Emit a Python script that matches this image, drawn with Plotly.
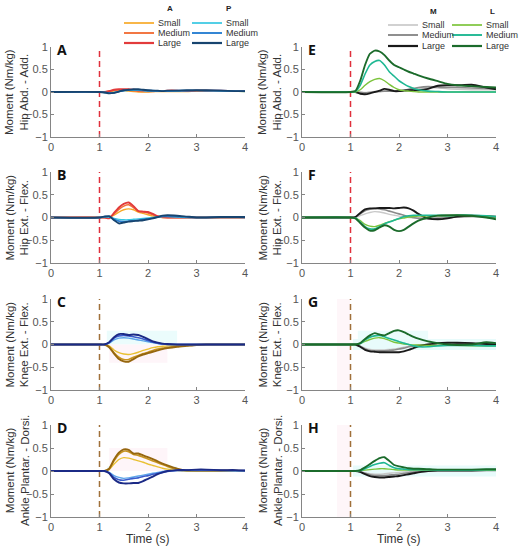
import plotly.graph_objects as go

# time base (s) shared by every curve
time_s = [0, 1.0, 1.1, 1.2, 1.3, 1.4, 1.5, 1.6, 1.7, 1.8, 1.9, 2.0, 2.1, 2.2,
          2.3, 2.4, 2.6, 2.8, 3.0, 3.2, 3.5, 3.8, 4.0]
onset_time = 1.0
y_ticks = [-1, -0.5, 0, 0.5, 1]
x_ticks = [0, 1, 2, 3, 4]
size_labels = ['Small', 'Medium', 'Large']

# A - hip abd/add, A and P directions
abd_a_small = [0, 0, 0, 0.01, 0.02, 0.03, 0.03, 0.02, 0.01, 0.0, 0.0, 0.0, 0.01, 0.01, 0.01, 0.01, 0.01, 0.01, 0.02, 0.02, 0.02, 0.02, 0.01]
abd_a_medium = [0, 0, 0, 0.02, 0.04, 0.05, 0.05, 0.04, 0.03, 0.02, 0.01, 0.01, 0.01, 0.02, 0.02, 0.02, 0.02, 0.02, 0.03, 0.03, 0.02, 0.02, 0.02]
abd_a_large = [0, 0, 0, 0.02, 0.05, 0.06, 0.06, 0.06, 0.05, 0.04, 0.03, 0.02, 0.02, 0.02, 0.02, 0.03, 0.03, 0.02, 0.03, 0.03, 0.03, 0.02, 0.02]
abd_p_small = [0, 0, -0.01, -0.02, -0.01, 0.01, 0.03, 0.04, 0.04, 0.04, 0.03, 0.02, 0.02, 0.02, 0.02, 0.02, 0.02, 0.03, 0.03, 0.03, 0.02, 0.02, 0.01]
abd_p_medium = [0, 0, -0.01, -0.02, -0.02, 0.01, 0.03, 0.04, 0.05, 0.05, 0.04, 0.03, 0.03, 0.02, 0.02, 0.02, 0.03, 0.03, 0.04, 0.03, 0.03, 0.02, 0.02]
abd_p_large = [0, 0, -0.01, -0.03, -0.02, 0.01, 0.04, 0.05, 0.06, 0.06, 0.05, 0.04, 0.03, 0.03, 0.02, 0.03, 0.03, 0.04, 0.04, 0.04, 0.03, 0.02, 0.02]

# B - hip ext/flex
ext_a_small = [0, 0, 0, 0, 0.05, 0.12, 0.17, 0.19, 0.17, 0.12, 0.09, 0.06, 0.03, 0.01, 0, 0, 0, 0, 0, 0, 0, 0, 0]
ext_a_medium = [0, 0, 0, 0, 0.08, 0.18, 0.25, 0.28, 0.22, 0.14, 0.12, 0.10, 0.06, 0.02, 0, 0, 0, 0, 0, 0, 0, 0, 0]
ext_a_large = [0, 0, 0, -0.02, 0.1, 0.22, 0.3, 0.33, 0.25, 0.14, 0.13, 0.12, 0.08, 0.03, 0.01, 0, 0, 0, 0, 0, 0, 0, 0]
ext_p_small = [0, 0, 0.01, 0.01, -0.02, -0.04, -0.05, -0.05, -0.04, -0.03, -0.02, -0.01, 0, 0.01, 0.02, 0.02, 0.01, 0, 0, 0, 0, 0, 0]
ext_p_medium = [0, 0, 0.02, 0.02, -0.04, -0.08, -0.09, -0.08, -0.07, -0.06, -0.04, -0.03, -0.01, 0.01, 0.03, 0.03, 0.02, 0.01, 0, 0, 0.01, 0.01, 0]
ext_p_large = [0, 0, 0.02, 0.03, -0.06, -0.13, -0.11, -0.09, -0.08, -0.07, -0.06, -0.04, -0.02, 0.01, 0.04, 0.05, 0.04, 0.02, 0, 0, 0.01, 0.01, 0.01]

# C - knee ext/flex
knee_a_small = [0, 0, 0, -0.03, -0.12, -0.18, -0.21, -0.22, -0.2, -0.17, -0.13, -0.1, -0.07, -0.05, -0.04, -0.03, -0.02, -0.01, 0, 0, 0, 0, 0]
knee_a_medium = [0, 0, 0, -0.05, -0.18, -0.28, -0.33, -0.33, -0.28, -0.24, -0.2, -0.17, -0.13, -0.1, -0.08, -0.06, -0.04, -0.02, -0.01, 0, 0, 0, 0]
knee_a_large = [0, 0, 0, -0.06, -0.2, -0.32, -0.37, -0.38, -0.32, -0.26, -0.22, -0.19, -0.16, -0.13, -0.1, -0.08, -0.05, -0.03, -0.01, 0, 0, 0, 0]
knee_p_small = [0, 0, 0, 0.03, 0.1, 0.14, 0.15, 0.14, 0.12, 0.1, 0.08, 0.06, 0.04, 0.02, 0.01, 0, 0, 0, 0, 0, 0, 0, 0]
knee_p_medium = [0, 0, 0, 0.04, 0.14, 0.19, 0.2, 0.19, 0.17, 0.15, 0.12, 0.09, 0.05, 0.03, 0.01, 0, 0, 0, 0, 0, 0, 0, 0]
knee_p_large = [0, 0, 0, 0.05, 0.16, 0.23, 0.23, 0.21, 0.22, 0.21, 0.17, 0.12, 0.07, 0.04, 0.02, 0.01, 0, 0, 0, 0, 0, 0, 0]

# D - ankle plantar/dorsi
ank_a_small = [0, 0, 0, 0.03, 0.15, 0.25, 0.29, 0.28, 0.25, 0.22, 0.19, 0.15, 0.12, 0.09, 0.06, 0.04, 0.01, 0, 0, 0, 0, 0, 0]
ank_a_medium = [0, 0, 0, 0.05, 0.22, 0.36, 0.43, 0.42, 0.36, 0.34, 0.3, 0.26, 0.22, 0.18, 0.14, 0.1, 0.03, 0.01, 0, 0, 0, 0, 0]
ank_a_large = [0, 0, 0, 0.05, 0.25, 0.4, 0.47, 0.46, 0.38, 0.38, 0.34, 0.3, 0.26, 0.21, 0.16, 0.12, 0.05, 0.01, 0.01, 0.01, 0.01, 0.01, 0]
ank_p_small = [0, 0, 0, -0.03, -0.1, -0.14, -0.16, -0.15, -0.13, -0.11, -0.09, -0.07, -0.05, -0.03, -0.01, 0, 0.01, 0.01, 0.01, 0.01, 0.01, 0, 0]
ank_p_medium = [0, 0, 0, -0.04, -0.14, -0.19, -0.2, -0.18, -0.16, -0.15, -0.12, -0.1, -0.07, -0.05, -0.03, -0.01, 0.01, 0.02, 0.02, 0.02, 0.01, 0.01, 0.01]
ank_p_large = [0, 0, 0, -0.05, -0.18, -0.25, -0.27, -0.27, -0.26, -0.26, -0.22, -0.17, -0.12, -0.07, -0.03, 0, 0.02, 0.02, 0.03, 0.03, 0.02, 0.02, 0.01]

# E - hip abd/add, M and L directions
abd_m_small = [0, 0, 0, 0, -0.01, 0, 0.01, 0.01, 0.02, 0.02, 0.02, 0.03, 0.04, 0.05, 0.07, 0.08, 0.1, 0.09, 0.07, 0.06, 0.05, 0.05, 0.05]
abd_m_medium = [0, 0, 0, -0.01, -0.02, -0.01, 0, 0.01, 0.02, 0.02, 0.02, 0.03, 0.04, 0.06, 0.08, 0.1, 0.12, 0.11, 0.1, 0.1, 0.09, 0.08, 0.07]
abd_m_large = [0, 0, 0, -0.04, -0.05, -0.03, 0, 0.03, 0.07, 0.05, 0.02, 0.02, 0.03, 0.04, 0.04, 0.04, 0.07, 0.14, 0.15, 0.15, 0.16, 0.1, 0.06]
abd_l_small = [0, 0, 0, 0.05, 0.15, 0.23, 0.28, 0.3, 0.25, 0.17, 0.1, 0.05, 0.03, 0.02, 0.01, 0, 0, 0, 0, 0, 0, 0, 0]
abd_l_medium = [0, 0, 0.01, 0.15, 0.4, 0.6, 0.68, 0.7, 0.6, 0.45, 0.35, 0.25, 0.18, 0.12, 0.08, 0.05, 0.02, 0.01, 0, 0, 0, 0, 0]
abd_l_large = [0, 0, 0.02, 0.25, 0.6, 0.85, 0.92, 0.9, 0.82, 0.7, 0.6, 0.55, 0.5, 0.45, 0.41, 0.37, 0.3, 0.24, 0.18, 0.15, 0.13, 0.11, 0.1]

# F - hip ext/flex
ext_m_small = [0, 0, 0, 0.04, 0.08, 0.11, 0.13, 0.12, 0.1, 0.07, 0.05, 0.03, 0.01, 0, -0.01, -0.01, -0.01, 0, 0.01, 0.01, 0.01, 0.01, 0]
ext_m_medium = [0, 0, 0.01, 0.08, 0.15, 0.18, 0.2, 0.19, 0.17, 0.14, 0.11, 0.08, 0.05, 0.02, 0, -0.02, -0.03, -0.02, 0, 0.02, 0.03, 0.02, 0.01]
ext_m_large = [0, 0, 0.01, 0.1, 0.18, 0.2, 0.2, 0.21, 0.21, 0.21, 0.2, 0.21, 0.22, 0.2, 0.15, 0.08, -0.02, -0.04, -0.02, 0.02, 0.04, 0.03, 0.02]
ext_l_small = [0, 0, -0.01, -0.07, -0.15, -0.19, -0.2, -0.17, -0.13, -0.09, -0.06, -0.03, -0.01, 0.01, 0.02, 0.03, 0.04, 0.04, 0.04, 0.05, 0.04, 0.03, 0.01]
ext_l_medium = [0, 0, -0.01, -0.1, -0.2, -0.25, -0.25, -0.2, -0.14, -0.1, -0.06, -0.02, 0.02, 0.04, 0.05, 0.05, 0.05, 0.05, 0.04, 0.05, 0.05, 0.04, 0.02]
ext_l_large = [0, 0, -0.02, -0.12, -0.22, -0.29, -0.28, -0.22, -0.17, -0.2, -0.27, -0.3, -0.27, -0.2, -0.13, -0.07, 0, 0.04, 0.05, 0.05, 0.04, 0, -0.04]

# G - knee ext/flex
knee_m_small = [0, 0, 0, -0.03, -0.08, -0.11, -0.12, -0.12, -0.12, -0.11, -0.1, -0.08, -0.06, -0.04, -0.02, -0.01, 0, 0.02, 0.03, 0.02, 0.02, 0.01, 0]
knee_m_medium = [0, 0, 0, -0.04, -0.1, -0.13, -0.14, -0.14, -0.14, -0.13, -0.12, -0.1, -0.08, -0.05, -0.03, -0.02, 0, 0.02, 0.03, 0.03, 0.02, 0.01, 0]
knee_m_large = [0, 0, 0, -0.05, -0.12, -0.15, -0.16, -0.17, -0.17, -0.17, -0.17, -0.17, -0.15, -0.12, -0.08, -0.04, 0, 0.03, 0.04, 0.04, 0.03, 0.01, 0]
knee_l_small = [0, 0, 0, 0.02, 0.07, 0.11, 0.14, 0.15, 0.13, 0.09, 0.05, 0.03, 0.01, 0, -0.01, -0.01, -0.02, -0.02, -0.02, -0.02, -0.03, -0.03, -0.03]
knee_l_medium = [0, 0, 0, 0.02, 0.1, 0.16, 0.19, 0.2, 0.17, 0.13, 0.1, 0.06, 0.03, 0, -0.03, -0.05, -0.05, -0.03, -0.02, -0.02, -0.02, -0.03, -0.03]
knee_l_large = [0, 0, 0, 0.03, 0.12, 0.2, 0.25, 0.22, 0.2, 0.25, 0.3, 0.31, 0.27, 0.22, 0.17, 0.13, 0.07, 0.03, 0, -0.01, 0, 0.05, 0.03]

# H - ankle plantar/dorsi
ank_m_small = [0, 0, 0, -0.01, -0.04, -0.06, -0.07, -0.07, -0.06, -0.05, -0.04, -0.03, -0.02, -0.01, 0, 0, 0.01, 0.01, 0.01, 0.01, 0.01, 0.01, 0.01]
ank_m_medium = [0, 0, 0, -0.02, -0.05, -0.08, -0.1, -0.1, -0.1, -0.09, -0.08, -0.07, -0.05, -0.04, -0.02, -0.01, 0, 0.01, 0.01, 0.01, 0.01, 0.01, 0.01]
ank_m_large = [0, 0, 0, -0.02, -0.07, -0.11, -0.13, -0.14, -0.14, -0.13, -0.12, -0.11, -0.09, -0.07, -0.05, -0.03, 0, 0.01, 0.01, 0.01, 0.01, 0.02, 0.02]
ank_l_small = [0, 0, 0, 0.01, 0.02, 0.03, 0.04, 0.05, 0.05, 0.04, 0.03, 0.02, 0.02, 0.02, 0.02, 0.02, 0.02, 0.02, 0.02, 0.02, 0.02, 0.02, 0.02]
ank_l_medium = [0, 0, 0, 0.01, 0.05, 0.1, 0.14, 0.17, 0.18, 0.12, 0.07, 0.05, 0.04, 0.03, 0.03, 0.03, 0.03, 0.02, 0.02, 0.02, 0.02, 0.03, 0.03]
ank_l_large = [0, 0, 0, 0.02, 0.08, 0.15, 0.22, 0.28, 0.3, 0.22, 0.13, 0.1, 0.08, 0.06, 0.05, 0.05, 0.04, 0.03, 0.03, 0.03, 0.03, 0.04, 0.04]

# colours
hip_a_colors = ['#f7a928', '#f2703a', '#e23b3b']
hip_p_colors = ['#36c7e2', '#2a80d2', '#17446f']
low_a_colors = ['#e9c032', '#c8951f', '#96670f']
low_p_colors = ['#5ea6ea', '#3a5ccc', '#1b2a86']
m_colors = ['#c9c9c9', '#8a8a8a', '#1a1a1a']
l_colors = ['#7cc43c', '#1fb893', '#1b6b2b']
red_dash = '#e0303c'
brown_dash = '#a0703a'
line_widths = [1.4, 1.6, 1.9]

panels = [
    ('A', 0, 0, 'Hip Abd. - Add.', [abd_a_small, abd_a_medium, abd_a_large], hip_a_colors,
     [abd_p_small, abd_p_medium, abd_p_large], hip_p_colors, red_dash),
    ('B', 0, 1, 'Hip Ext. - Flex.', [ext_a_small, ext_a_medium, ext_a_large], hip_a_colors,
     [ext_p_small, ext_p_medium, ext_p_large], hip_p_colors, red_dash),
    ('C', 0, 2, 'Knee Ext. - Flex.', [knee_a_small, knee_a_medium, knee_a_large], low_a_colors,
     [knee_p_small, knee_p_medium, knee_p_large], low_p_colors, brown_dash),
    ('D', 0, 3, 'Ankle Plantar. - Dorsi.', [ank_a_small, ank_a_medium, ank_a_large], low_a_colors,
     [ank_p_small, ank_p_medium, ank_p_large], low_p_colors, brown_dash),
    ('E', 1, 0, 'Hip Abd. - Add.', [abd_m_small, abd_m_medium, abd_m_large], m_colors,
     [abd_l_small, abd_l_medium, abd_l_large], l_colors, red_dash),
    ('F', 1, 1, 'Hip Ext. - Flex.', [ext_m_small, ext_m_medium, ext_m_large], m_colors,
     [ext_l_small, ext_l_medium, ext_l_large], l_colors, red_dash),
    ('G', 1, 2, 'Knee Ext. - Flex.', [knee_m_small, knee_m_medium, knee_m_large], m_colors,
     [knee_l_small, knee_l_medium, knee_l_large], l_colors, brown_dash),
    ('H', 1, 3, 'Ankle Plantar. - Dorsi.', [ank_m_small, ank_m_medium, ank_m_large], m_colors,
     [ank_l_small, ank_l_medium, ank_l_large], l_colors, brown_dash),
]

W, H = 520, 550
col_px = [(51, 245), (302, 496)]
row_px = [(47, 137), (172, 263), (299, 390), (425, 517)]
ytitle_px = [17, 270]

fig = go.Figure()
layout = dict(width=W, height=H, autosize=False, margin=dict(l=0, r=0, t=0, b=0, pad=0),
              paper_bgcolor='white', plot_bgcolor='white', showlegend=False,
              font=dict(family='Liberation Sans, Arial', color='#444'))
annotations = []
shapes = []

for i, (letter, col, row, ylab, first, first_cols, second, second_cols, dcol) in enumerate(panels):
    n = i + 1
    xa, ya = f'x{n}', f'y{n}'
    x0, x1 = col_px[col]
    yt, yb = row_px[row]
    axis_common = dict(showline=True, linecolor='#858585', linewidth=1, ticks='inside',
                       ticklen=3, tickcolor='#858585', showgrid=False, zeroline=False,
                       automargin=False, tickfont=dict(size=11, color='#555'))
    layout[f'xaxis{n}'] = dict(domain=[x0 / W, x1 / W], anchor=ya, range=[0, 4],
                               tickvals=x_ticks, **axis_common)
    layout[f'yaxis{n}'] = dict(domain=[1 - yb / H, 1 - yt / H], anchor=xa, range=[-1, 1],
                               tickvals=y_ticks, **axis_common)

    # faint variability bands in the lower panels
    if row >= 2:
        shapes.append(dict(type='rect', xref=xa, yref=ya, x0=1.15, x1=2.6, y0=0, y1=0.3 if row == 2 else 0.1,
                           fillcolor='#ebfcfc', line_width=0, layer='below'))
        if col == 1:
            shapes.append(dict(type='rect', xref=xa, yref=ya, x0=0.72, x1=0.99, y0=-1, y1=1,
                               fillcolor='#fef6f9', line_width=0, layer='below'))
            shapes.append(dict(type='rect', xref=xa, yref=ya, x0=1.05, x1=4, y0=-0.12, y1=0.12,
                               fillcolor='#e8fbfb', line_width=0, layer='below'))
        else:
            shapes.append(dict(type='rect', xref=xa, yref=ya, x0=1.2, x1=2.4, y0=-0.4 if row == 2 else 0.0,
                               y1=0.0 if row == 2 else 0.5, fillcolor='#fef5f9', line_width=0, layer='below'))

    fig.add_trace(go.Scatter(x=[onset_time, onset_time], y=[-1, 1], xaxis=xa, yaxis=ya,
                             mode='lines', line=dict(color=dcol, width=1.5, dash='6px,4px'),
                             hoverinfo='skip'))
    for vals, c, w in zip(first, first_cols, line_widths):
        fig.add_trace(go.Scatter(x=time_s, y=vals, xaxis=xa, yaxis=ya, mode='lines',
                                 line=dict(color=c, width=w, shape='spline', smoothing=0.5)))
    for vals, c, w in zip(second, second_cols, line_widths):
        fig.add_trace(go.Scatter(x=time_s, y=vals, xaxis=xa, yaxis=ya, mode='lines',
                                 line=dict(color=c, width=w, shape='spline', smoothing=0.5)))

    annotations.append(dict(text=f'<b>{letter}</b>', xref='paper', yref='paper',
                            x=(x0 + 4) / W, y=1 - (yt + 2) / H, xanchor='left', yanchor='middle',
                            showarrow=False, font=dict(family='Open Sans', size=14, color='#111')))
    annotations.append(dict(text=f'Moment (Nm/kg)<br>{ylab}', xref='paper', yref='paper',
                            x=ytitle_px[col] / W, y=1 - (yt + yb) / 2 / H, textangle=-90,
                            xanchor='center', yanchor='middle', showarrow=False,
                            font=dict(size=11.5, color='#333')))
    if row == 3:
        annotations.append(dict(text='Time (s)', xref='paper', yref='paper',
                                x=(x0 + x1) / 2 / W, y=1 - 539 / H, xanchor='center',
                                yanchor='middle', showarrow=False,
                                font=dict(size=12, color='#333')))

# hand-drawn legends (two groups per column)
legend_groups = [
    ('A', hip_a_colors, 124, 170, [23, 33, 43], 9),
    ('P', hip_p_colors, 192, 229, [23, 33, 43], 9),
    ('M', m_colors, 388, 433, [25, 35, 46], 11),
    ('L', l_colors, 452, 492, [25, 35, 46], 11),
]
for head, cols, lx, hx, rows_y, hy in legend_groups:
    annotations.append(dict(text=f'<b>{head}</b>', xref='paper', yref='paper', x=hx / W,
                            y=1 - hy / H, xanchor='center', yanchor='middle', showarrow=False,
                            font=dict(size=8, color='#222')))
    for lab, c, w, ry in zip(size_labels, cols, line_widths, rows_y):
        shapes.append(dict(type='line', xref='paper', yref='paper', x0=lx / W, x1=(lx + 30) / W,
                           y0=1 - ry / H, y1=1 - ry / H, line=dict(color=c, width=w + 0.3)))
        annotations.append(dict(text=lab, xref='paper', yref='paper', x=(lx + 32) / W,
                                y=1 - ry / H, xanchor='left', yanchor='middle', showarrow=False,
                                font=dict(size=9, color='#333')))

layout['annotations'] = annotations
layout['shapes'] = shapes
fig.update_layout(**layout)
fig.write_html("out.html", config={'displayModeBar': False},
               post_script="document.body.style.margin='0';")
